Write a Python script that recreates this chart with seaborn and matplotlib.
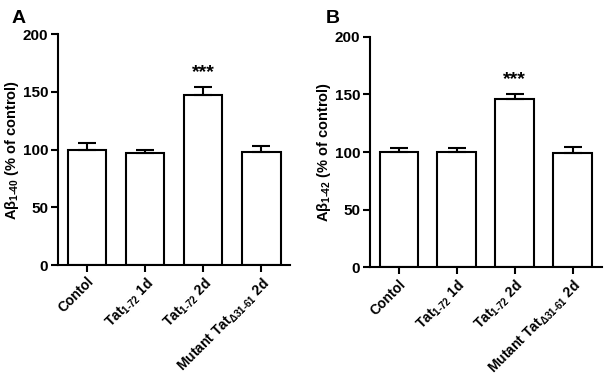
import matplotlib
matplotlib.use("Agg")
import matplotlib.pyplot as plt
import seaborn as sns
import numpy as np

sns.set_theme(style="ticks")
plt.rcParams['font.family'] = ['Liberation Sans', 'DejaVu Sans']
plt.rcParams['font.weight'] = 'bold'
plt.rcParams['text.color'] = 'black'
plt.rcParams['axes.labelcolor'] = 'black'
plt.rcParams['xtick.color'] = 'black'
plt.rcParams['ytick.color'] = 'black'
plt.rcParams['mathtext.fontset'] = 'custom'
plt.rcParams['mathtext.rm'] = 'Liberation Sans:bold'
plt.rcParams['mathtext.it'] = 'Liberation Sans:bold:italic'
plt.rcParams['mathtext.bf'] = 'Liberation Sans:bold'
plt.rcParams['mathtext.default'] = 'rm'

categories = ["Contol", r"Tat$_{1\text{-}72}$ 1d", r"Tat$_{1\text{-}72}$ 2d",
              r"Mutant Tat$_{\Delta 31\text{-}61}$ 2d"]
a40_values = [100, 97, 147, 98]
a40_err = [6, 2.5, 7, 5.5]
a42_values = [100, 100, 146, 99]
a42_err = [3.5, 3.5, 4.5, 5]
ylabels = [r"Aβ$_{1\text{-}40}$ (% of control)", r"Aβ$_{1\text{-}42}$ (% of control)"]
yticks = [0, 50, 100, 150, 200]
panel_letters = ["A", "B"]
star_text = "***"
star_index = 2

fig = plt.figure(figsize=(6.12, 3.83), dpi=100)
axA = fig.add_axes([0.0948, 0.308, 0.3792, 0.603])
axB = fig.add_axes([0.6046, 0.302, 0.3784, 0.602])

for ax, vals, errs, ylab in [(axA, a40_values, a40_err, ylabels[0]),
                             (axB, a42_values, a42_err, ylabels[1])]:
    sns.barplot(x=categories, y=vals, ax=ax, color="white", edgecolor="black",
                linewidth=1.5, width=0.67, errorbar=None, order=categories)
    xs = np.arange(len(categories))
    ax.errorbar(xs, vals, yerr=[np.zeros(len(vals)), errs], fmt="none",
                ecolor="black", elinewidth=1.5, capsize=6.5, capthick=1.5, zorder=1)
    ax.set_ylim(0, 200)
    ax.set_xlim(-0.5, 3.5)
    ax.set_yticks(yticks)
    ax.set_yticklabels([str(t) for t in yticks], fontsize=11, fontweight="bold")
    ax.set_xticks(xs)
    ax.set_xticklabels(categories, rotation=45, ha="right", rotation_mode="anchor",
                       fontsize=10, fontweight="bold")
    ax.set_ylabel(ylab, fontsize=10.5, fontweight="bold", labelpad=1)
    ax.tick_params(axis="both", direction="out", width=1.5, length=5, pad=2)
    for s in ["top", "right"]:
        ax.spines[s].set_visible(False)
    for s in ["left", "bottom"]:
        ax.spines[s].set_linewidth(1.5)
        ax.spines[s].set_color("black")
    top = vals[star_index] + errs[star_index]
    ax.text(star_index, top + 5, star_text, ha="center", va="bottom",
            fontsize=14, fontweight="bold")

fig.text(0.018, 0.94, panel_letters[0], fontsize=14, fontweight="bold")
fig.text(0.533, 0.94, panel_letters[1], fontsize=14, fontweight="bold")

fig.savefig("out.png", dpi=100)
